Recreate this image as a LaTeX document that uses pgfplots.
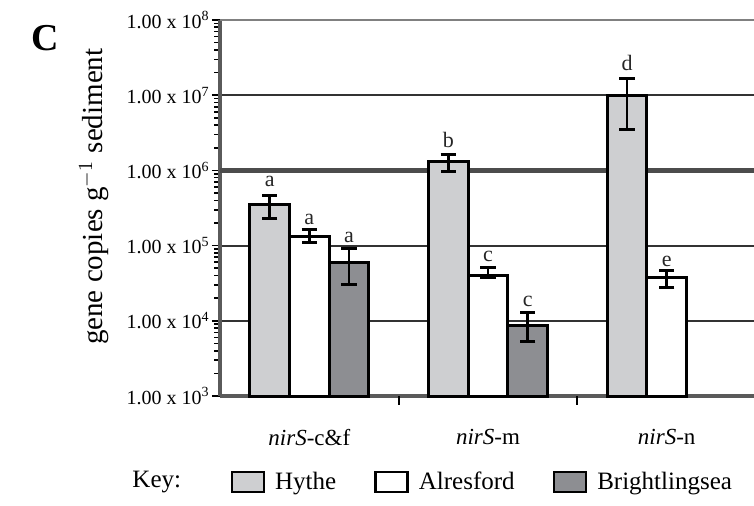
\documentclass[border=0pt]{standalone}
\usepackage{pgfplots}
\pgfplotsset{compat=1.18}
\usepackage{fontspec}
\setmainfont{Liberation Serif}
\definecolor{hythe}{RGB}{206,207,209}
\definecolor{bright}{RGB}{141,142,146}
\definecolor{axgray}{RGB}{90,90,90}
\begin{document}
\begin{tikzpicture}
\begin{axis}[
  at={(0,0)}, anchor=south west,
  scale only axis, width=268pt, height=188pt,
  ymode=log, log origin=infty,
  ymin=1e3, ymax=1e8, xmin=-0.5, xmax=2.5,
  axis x line*=bottom, axis y line*=left,
  axis line style={axgray, line width=1.6pt, -},
  ytick={1e3,1e4,1e5,1e6,1e7,1e8},
  yticklabels={{1.00 x 10\textsuperscript{3}},{1.00 x 10\textsuperscript{4}},{1.00 x 10\textsuperscript{5}},{1.00 x 10\textsuperscript{6}},{1.00 x 10\textsuperscript{7}},{1.00 x 10\textsuperscript{8}}},
  yticklabel style={font=\fontsize{10}{12}\selectfont, inner sep=1pt},
  ytick style={black, line width=0.8pt},
  tick align=outside, major tick length=4pt,
  minor ytick={}, 
  ymajorgrids, grid style={black!80, line width=1pt},
  extra y ticks={1e6}, extra y tick labels={},
  extra y tick style={grid style={black!70, line width=2.4pt}, major tick length=0pt},
  xtick={0,1,2},
  xticklabels={{\textit{nirS}-c\&f},{\textit{nirS}-m},{\textit{nirS}-n}},
  xticklabel style={font=\fontsize{11.5}{14}\selectfont, yshift=-9pt},
  xtick style={draw=none},
  extra x ticks={0.5,1.5}, extra x tick labels={},
  extra x tick style={xtick style={black, line width=0.9pt, draw=black}, major tick length=4.5pt, xmajorgrids=false},
  ylabel={gene copies g\textsuperscript{$-1$} sediment},
  ylabel style={font=\fontsize{14.5}{16}\selectfont, at={(axis description cs:-0.235,0.53)}, anchor=center},
  legend columns=3,
  legend style={at={(axis description cs:0.019,-0.229)}, anchor=west, draw=none, fill=none,
    font=\fontsize{12.5}{14}\selectfont, inner sep=0pt,
    /tikz/every odd column/.append style={column sep=3pt},
    /tikz/every even column/.append style={column sep=17pt}},
  legend image code/.code={\draw[#1, line width=1.3pt] (0pt,-5pt) rectangle (16pt,5pt);},
  error bars/y dir=both, error bars/y explicit,
  error bars/error bar style={black, line width=1.4pt},
  error bars/error mark options={rotate=90, mark size=3.8pt, line width=1.4pt, black},
  clip=false,
]
\addplot[ybar, bar width=0.222, bar shift=0pt, fill=hythe, draw=black, line width=1.5pt]
  coordinates {(-0.222,3.49e5) += (0,1.10e5) -= (0,1.18e5)
               (0.778,1.33e6) += (0,0.29e6) -= (0,0.36e6)
               (1.778,1.0e7) += (0,0.67e7) -= (0,0.652e7)};
\addlegendentry{Hythe}
\addplot[ybar, bar width=0.222, bar shift=0pt, fill=white, draw=black, line width=1.5pt]
  coordinates {(0,1.31e5) += (0,0.31e5) -= (0,0.21e5)
               (1,4.06e4) += (0,1.03e4) -= (0,0.32e4)
               (2,3.74e4) += (0,0.90e4) -= (0,0.96e4)};
\addlegendentry{Alresford}
\addplot[ybar, bar width=0.222, bar shift=0pt, fill=bright, draw=black, line width=1.5pt]
  coordinates {(0.222,6.0e4) += (0,3.2e4) -= (0,2.95e4)
               (1.222,8.75e3) += (0,4.15e3) -= (0,3.5e3)};
\addlegendentry{Brightlingsea}
\addplot[draw=none, mark=none, forget plot, nodes near coords, point meta=explicit symbolic,
  every node near coord/.style={anchor=center, font=\fontsize{11}{12}\selectfont, text=black!85}]
  coordinates {(-0.222,7.1e5) [a] (0,2.2e5) [a] (0.222,1.29e5) [a]
               (0.778,2.56e6) [b] (1,7.1e4) [c] (1.222,1.79e4) [c]
               (1.778,2.7e7) [d] (2,6.1e4) [e]};
\node[font=\fontsize{12.5}{14}\selectfont] at (axis description cs:-0.118,-0.229) {Key:};
\node[font=\bfseries\fontsize{19}{20}\selectfont] at (axis description cs:-0.326,0.952) {C};
\end{axis}
\draw[black!50, line width=1.4pt] (0pt,188pt) -- (268pt,188pt);
\pgfresetboundingbox
\useasboundingbox (-110pt,-54.5pt) rectangle (267pt,198pt);
\end{tikzpicture}
\end{document}
